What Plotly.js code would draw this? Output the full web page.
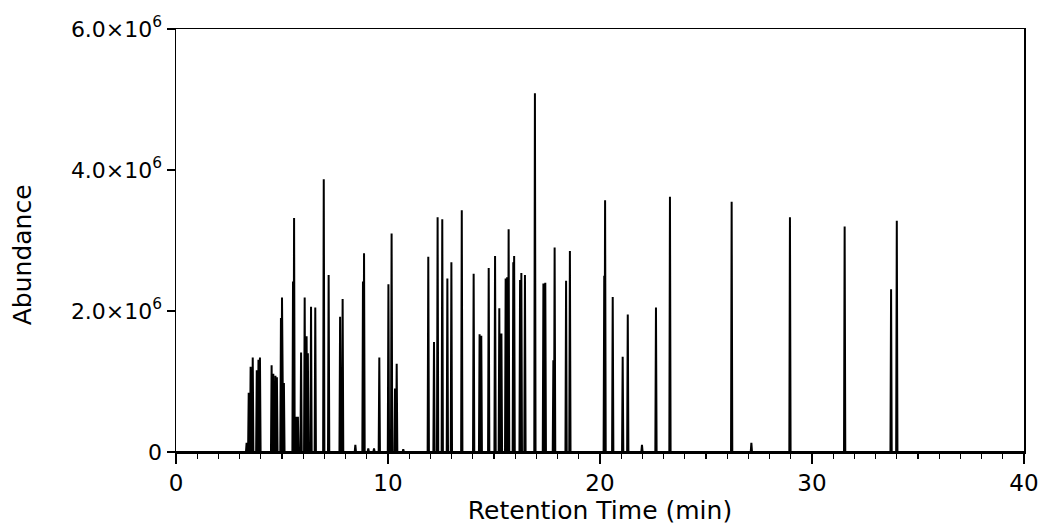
<!DOCTYPE html>
<html>
<head>
<meta charset="utf-8">
<script src="https://cdn.plot.ly/plotly-3.0.1.min.js"></script>
<style>html,body{margin:0;padding:0;background:#fff;}#chart{width:1044px;height:531px;}</style>
</head>
<body>
<div id="chart"></div>
<script>
// Peak apex retention times (min) and abundances
const peakTimes = [
  3.33, 3.43, 3.52, 3.62, 3.81, 3.89, 3.96, 4.51, 4.59, 4.69, 4.76, 4.95, 5.00, 5.09,
  5.52, 5.57, 5.69, 5.75, 5.90, 6.07, 6.16, 6.22, 6.37, 6.57, 6.97, 7.20, 7.74, 7.86,
  8.46, 8.82, 8.87, 9.07, 9.34, 9.59, 10.02, 10.17, 10.33, 10.41, 10.72,
  11.90, 12.17, 12.34, 12.56, 12.80, 12.99, 13.48, 14.04, 14.32, 14.40, 14.75,
  15.05, 15.25, 15.35, 15.55, 15.62, 15.69, 15.91, 15.95, 16.23, 16.29, 16.46,
  16.93, 17.33, 17.42, 17.80, 17.86, 18.40, 18.58, 20.20, 20.24, 20.60, 21.07,
  21.31, 21.98, 22.64, 23.30, 26.21, 27.14, 28.96, 31.54, 33.73, 34.00
];
const peakHeights = [
  0.13e6, 0.84e6, 1.21e6, 1.34e6, 1.16e6, 1.31e6, 1.34e6, 1.23e6, 1.11e6, 1.08e6, 1.06e6, 1.90e6, 2.19e6, 0.98e6,
  2.42e6, 3.32e6, 0.50e6, 0.50e6, 1.41e6, 2.19e6, 1.64e6, 1.40e6, 2.06e6, 2.05e6, 3.87e6, 2.51e6, 1.92e6, 2.17e6,
  0.10e6, 2.42e6, 2.82e6, 0.05e6, 0.05e6, 1.34e6, 2.38e6, 3.10e6, 0.90e6, 1.25e6, 0.04e6,
  2.77e6, 1.56e6, 3.33e6, 3.30e6, 2.46e6, 2.69e6, 3.43e6, 2.53e6, 1.67e6, 1.65e6, 2.61e6,
  2.78e6, 2.04e6, 1.68e6, 2.46e6, 2.48e6, 3.16e6, 2.69e6, 2.78e6, 2.44e6, 2.54e6, 2.51e6,
  5.09e6, 2.39e6, 2.40e6, 1.30e6, 2.90e6, 2.43e6, 2.85e6, 2.50e6, 3.57e6, 2.20e6, 1.35e6,
  1.95e6, 0.10e6, 2.05e6, 3.62e6, 3.55e6, 0.13e6, 3.33e6, 3.20e6, 2.31e6, 3.28e6
];
const xRange = [0, 40];
const yTickVals = [0, 2e6, 4e6, 6e6];
const yTickText = ['0', '2.0×10<sup>6</sup>', '4.0×10<sup>6</sup>', '6.0×10<sup>6</sup>'];
const xTickVals = [0, 10, 20, 30, 40];

// Build the trace as narrow spikes from the baseline
const hw = 0.03;
const xs = [xRange[0]], ys = [0];
for (let i = 0; i < peakTimes.length; i++) {
  xs.push(peakTimes[i] - hw, peakTimes[i], peakTimes[i] + hw);
  ys.push(0, peakHeights[i], 0);
}
xs.push(xRange[1]); ys.push(0);

const font = 'DejaVu Sans, Arial, sans-serif';
const trace = {
  x: xs, y: ys, type: 'scatter', mode: 'lines',
  line: {color: '#000', width: 2},
  hoverinfo: 'skip', showlegend: false
};
const layout = {
  width: 1044, height: 531,
  margin: {l: 176, r: 20, t: 29, b: 79},
  paper_bgcolor: '#fff', plot_bgcolor: '#fff',
  font: {family: font, color: '#000', size: 22},
  showlegend: false,
  xaxis: {
    range: xRange, showgrid: false, zeroline: false,
    showline: true, linecolor: '#000', linewidth: 1.5, mirror: true,
    tickmode: 'array', tickvals: xTickVals,
    ticks: 'outside', ticklen: 10, tickwidth: 1.5, tickcolor: '#000',
    tickfont: {family: font, size: 23, color: '#000'},
    minor: {dtick: 1, ticks: 'outside', ticklen: 5, tickwidth: 1.2, tickcolor: '#000', showgrid: false},
    title: {text: 'Retention Time (min)', font: {family: font, size: 25, color: '#000'}, standoff: 6}
  },
  yaxis: {
    range: [0, 6e6], showgrid: false, zeroline: false,
    showline: true, linecolor: '#000', linewidth: 1.5, mirror: true,
    tickmode: 'array', tickvals: yTickVals, ticktext: yTickText,
    ticks: 'outside', ticklen: 8, tickwidth: 1.5, tickcolor: '#000',
    tickfont: {family: font, size: 22, color: '#000'}
  },
  annotations: [{
    text: 'Abundance', textangle: -90, showarrow: false,
    xref: 'paper', yref: 'paper', x: -0.18, y: 0.466,
    xanchor: 'center', yanchor: 'middle',
    font: {family: font, size: 25, color: '#000'}
  }]
};
Plotly.newPlot('chart', [trace], layout, {displayModeBar: false, staticPlot: true});
</script>
</body>
</html>
